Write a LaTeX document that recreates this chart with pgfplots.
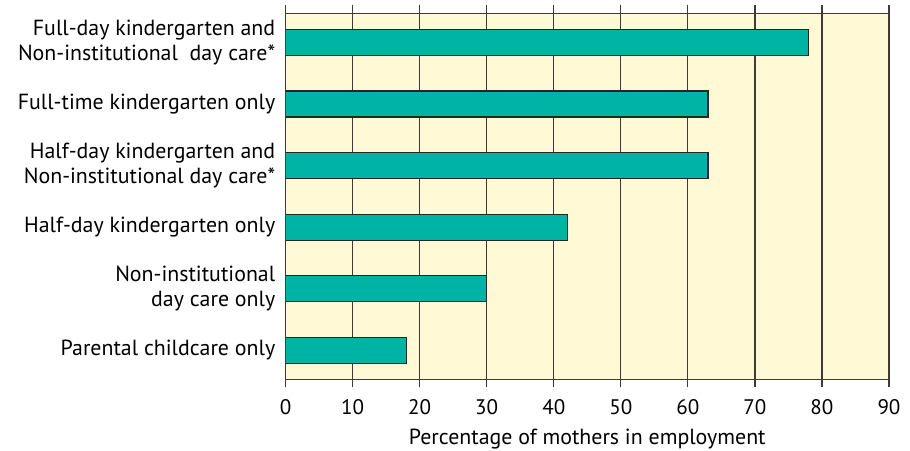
\documentclass[border=0pt]{standalone}
\usepackage{pgfplots}
\pgfplotsset{compat=1.18}
\usepackage{fontspec}
\setmainfont{PT Sans}
\definecolor{barteal}{HTML}{00B4A5}
\definecolor{bgyellow}{HTML}{FFF9D6}
\definecolor{gridgray}{HTML}{3F3A36}
\begin{document}
\begin{tikzpicture}
\path[use as bounding box] (-214.2pt,-53.0pt) rectangle (468.3pt,284.5pt);
\begin{axis}[
  at={(0,0)}, anchor=south west,
  scale only axis,
  width=452.55pt, height=274.5pt,
  xbar, bar width=19.5pt,
  xmin=0, xmax=90,
  ymin=-0.47, ymax=5.47,
  xtick={0,10,...,90},
  ytick={0,1,2,3,4,5},
  yticklabels={Parental childcare only,{Non-institutional\\day care only},Half-day kindergarten only,{Half-day kindergarten and\\Non-institutional day care*},Full-time kindergarten only,{Full-day kindergarten and\\Non-institutional\ \ day care*}},
  yticklabel style={align=right, font=\fontsize{16.4}{18.75}\selectfont, xshift=1.75pt},
  ytick style={draw=none},
  xticklabel style={font=\fontsize{15.8}{19}\selectfont, yshift=-5.5pt},
  /pgf/number format/assume math mode=true,
  xtick align=outside,
  major tick length=6pt,
  xtick style={gridgray, line width=0.9pt},
  xmajorgrids,
  major grid style={gridgray, line width=0.9pt},
  axis line style={gridgray, line width=0.9pt},
  axis background/.style={fill=bgyellow},
  xlabel={Percentage of mothers in employment},
  xlabel style={font=\fontsize{16.4}{18.75}\selectfont, inner sep=0pt, yshift=-7.5pt},
]
\addplot[fill=barteal, draw=black!85, line width=0.9pt] coordinates {
(18,0) (30,1) (42,2) (63,3) (63,4) (78,5)
};
\end{axis}
\end{tikzpicture}
\end{document}
